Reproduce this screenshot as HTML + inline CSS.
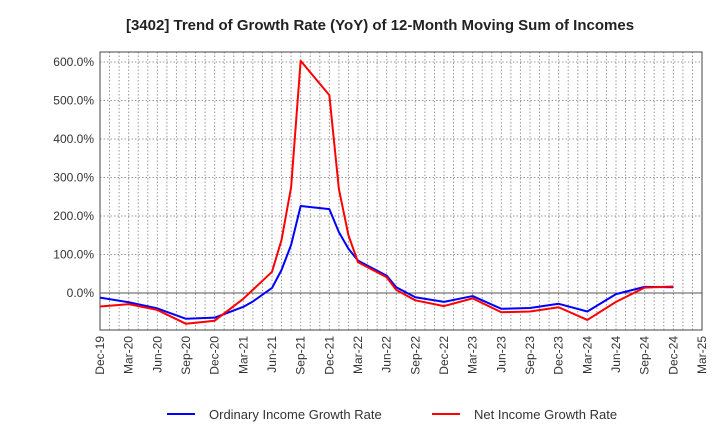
<!DOCTYPE html>
<html><head><meta charset="utf-8"><style>
body{margin:0;background:#fff;font-family:"Liberation Sans",Arial,sans-serif}
svg text{font-family:"Liberation Sans",Arial,sans-serif}
</style></head><body>
<svg id="chart" width="720" height="440" xmlns="http://www.w3.org/2000/svg">
<text x="380" y="30" text-anchor="middle" font-size="15" font-weight="bold" fill="#222">[3402]  Trend of Growth Rate (YoY) of 12-Month Moving Sum of Incomes</text>
<g id="grid"></g><g id="axes"></g><g id="series"></g>
<g>
<line x1="167" y1="414" x2="195" y2="414" stroke="#0000ff" stroke-width="2"/>
<text x="209" y="419" font-size="13" fill="#333">Ordinary Income Growth Rate</text>
<line x1="432" y1="414" x2="460" y2="414" stroke="#ff0000" stroke-width="2"/>
<text x="474" y="419" font-size="13" fill="#333">Net Income Growth Rate</text>
</g>
</svg>
<script>
const xLabels=["Dec-19","Mar-20","Jun-20","Sep-20","Dec-20","Mar-21","Jun-21","Sep-21","Dec-21","Mar-22","Jun-22","Sep-22","Dec-22","Mar-23","Jun-23","Sep-23","Dec-23","Mar-24","Jun-24","Sep-24","Dec-24","Mar-25"];
const yTicks=[0,100,200,300,400,500,600];
const ordMonths=[0,3,6,9,12,15,16,18,19,20,21,24,25,26,27,30,31,33,36,39,42,45,48,51,54,57,60];
const ordVals=[-12,-24,-40,-67,-64,-36,-22,13,60,125,226,218,158,115,84,45,15,-11,-23,-8,-41,-39,-28,-48,-3,16,15];
const netMonths=[0,3,6,9,12,15,18,19,20,21,24,25,26,27,30,31,33,36,39,42,45,48,51,54,57,60];
const netVals=[-35,-29,-44,-80,-72,-15,55,138,275,603,514,270,150,80,41,8,-19,-34,-14,-50,-48,-37,-70,-23,14,17];
const X0=100,X1=702,Y0=52,Y1=330,NM=63;
const xm=m=>X0+(X1-X0)*m/NM;
const yv=v=>293-v*0.385;
const NS="http://www.w3.org/2000/svg";
function mk(t,a,p){const e=document.createElementNS(NS,t);for(const k in a)e.setAttribute(k,a[k]);p.appendChild(e);return e;}
const grid=document.getElementById('grid'),axes=document.getElementById('axes'),ser=document.getElementById('series');
for(let m=1;m<NM;m++){const l=mk('line',{x1:xm(m),x2:xm(m),y1:Y0,y2:Y1,stroke:'#999','stroke-dasharray':'1.5,2','stroke-width':1},grid);

}
yTicks.forEach(v=>{if(v===0)return;const y=yv(v);const l=mk('line',{x1:X0,x2:X1,y1:y,y2:y,stroke:'#999','stroke-dasharray':'1.5,2','stroke-width':1},grid);

});
const z=mk('line',{x1:X0,x2:X1,y1:yv(0),y2:yv(0),stroke:'#555','stroke-width':1},axes);


const fr=mk('rect',{x:X0,y:Y0,width:X1-X0,height:Y1-Y0,fill:'none',stroke:'#444','stroke-width':1},axes);


yTicks.forEach(v=>{const t=mk('text',{x:X0-6,y:yv(v)+4,'text-anchor':'end','font-size':12,fill:'#333'},axes);t.textContent=v.toFixed(1)+'%';

});
xLabels.forEach((s,i)=>{const x=xm(i*3);const t=mk('text',{x:x+4,y:Y1+6,'text-anchor':'end','font-size':12,fill:'#333',transform:`rotate(-90 ${x+4} ${Y1+6})`},axes);t.textContent=s;

});
function line(ms,vs,c,n){const p=mk('polyline',{points:ms.map((m,i)=>xm(m)+','+yv(vs[i])).join(' '),fill:'none',stroke:c,'stroke-width':2,'stroke-linejoin':'round'},ser);

}
line(ordMonths,ordVals,'#0000ff','ordinary-income-line');
line(netMonths,netVals,'#ff0000','net-income-line');
</script>
</body></html>
